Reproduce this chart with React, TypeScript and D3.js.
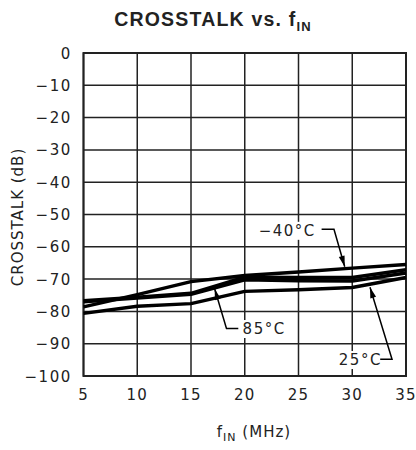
import React from 'react';
import * as d3 from 'd3';

const freqs = [5, 10, 15, 20, 25, 30, 35];
const xTicks = [5, 10, 15, 20, 25, 30, 35];
const yTicks = [0, -10, -20, -30, -40, -50, -60, -70, -80, -90, -100];
const crosstalkM40 = [-78.6, -74.8, -70.8, -68.9, -67.8, -66.6, -65.5];
const crosstalk85 = [-76.7, -75.6, -74.4, -69.4, -69.5, -69.5, -67.1];
const crosstalk85b = [-77.0, -75.9, -74.7, -70.2, -70.5, -70.6, -68.1];
const crosstalk25 = [-80.6, -78.4, -77.6, -73.8, -73.3, -72.6, -69.5];
const seriesList = [crosstalkM40, crosstalk85, crosstalk85b, crosstalk25];

const labelM40 = '−40°C';
const label85 = '85°C';
const label25 = '25°C';

// annotation anchors in data units: text position, leader elbow points, arrow tip
const annotations = [
  { text: labelM40, tx: 21.3, ty: -56.6, pts: [[27.15, -54.6], [28.3, -54.6], [29.3, -66.2]] },
  { text: label85, tx: 19.8, ty: -87.0, pts: [[19.4, -85.3], [18.3, -85.3], [17.2, -73.0]] },
  { text: label25, tx: 28.75, ty: -96.6, pts: [[32.6, -94.8], [33.7, -94.8], [31.65, -72.5]] },
];

const W = 416, H = 450;
const L = 83.5, R = 406, T = 53, B = 376;

export default function App() {
  const x = d3.scaleLinear().domain([5, 35]).range([L, R]);
  const y = d3.scaleLinear().domain([-100, 0]).range([B, T]);
  const line = d3.line<number>().x((_, i) => x(freqs[i])).y((d) => y(d));
  const font = "'DejaVu Sans', 'Liberation Sans', sans-serif";

  const arrowHead = (p0: number[], p1: number[]) => {
    const [x0, y0] = [x(p0[0]), y(p0[1])];
    const [x1, y1] = [x(p1[0]), y(p1[1])];
    const ang = Math.atan2(y1 - y0, x1 - x0);
    const len = 11, half = 3;
    const bx = x1 - len * Math.cos(ang), by = y1 - len * Math.sin(ang);
    const nx = -Math.sin(ang), ny = Math.cos(ang);
    return `M${x1},${y1}L${bx + nx * half},${by + ny * half}L${bx - nx * half},${by - ny * half}Z`;
  };

  return (
    <svg width={W} height={H} style={{ position: 'absolute', left: 0, top: 0, background: '#fff' }}>
      <text x={213} y={26} textAnchor="middle" fontFamily="'Liberation Sans', Arial, sans-serif" fontWeight="bold" fontSize={19.5} letterSpacing={1.2} fill="#222">
        CROSSTALK vs. f<tspan fontSize={13} dy={5}>IN</tspan>
      </text>
      {xTicks.map((t) => (
        <line key={'gx' + t} x1={x(t)} x2={x(t)} y1={T} y2={B} stroke="#222" strokeWidth={1.5} />
      ))}
      {yTicks.map((t) => (
        <line key={'gy' + t} x1={L} x2={R} y1={y(t)} y2={y(t)} stroke="#222" strokeWidth={1.5} />
      ))}
      <rect x={L} y={T} width={R - L} height={B - T} fill="none" stroke="#222" strokeWidth={2} />
      {yTicks.map((t) => (
        <text key={'ty' + t} x={72} y={y(t) + 5.5} textAnchor="end" fontFamily={font} fontSize={15} letterSpacing={1.6} fill="#222">
          {t < 0 ? '−' + Math.abs(t) : String(t)}
        </text>
      ))}
      {xTicks.map((t) => (
        <text key={'tx' + t} x={x(t)} y={400} textAnchor="middle" fontFamily={font} fontSize={15} letterSpacing={1.2} fill="#222">
          {t}
        </text>
      ))}
      <text transform="translate(23,217) rotate(-90)" textAnchor="middle" fontFamily={font} fontSize={15} letterSpacing={1} fill="#222">
        CROSSTALK (dB)
      </text>
      <text x={254} y={437} textAnchor="middle" fontFamily={font} fontSize={15} letterSpacing={1} fill="#222">
        f<tspan fontSize={11} dy={4}>IN</tspan><tspan dy={-4}>  (MHz)</tspan>
      </text>
      {seriesList.map((s, i) => (
        <path key={'s' + i} d={line(s) || ''} fill="none" stroke="#000" strokeWidth={3.4} strokeLinejoin="round" />
      ))}
      {annotations.map((a, i) => (
        <g key={'a' + i}>
          <rect x={x(a.tx) - 2} y={y(a.ty) - 14} width={a.text.length * 10.5 + 2} height={18} fill="#fff" />
          <text x={x(a.tx)} y={y(a.ty)} fontFamily={font} fontSize={15} letterSpacing={1.5} fill="#222">
            {a.text}
          </text>
          <polyline points={a.pts.map((p) => `${x(p[0])},${y(p[1])}`).join(' ')} fill="none" stroke="#000" strokeWidth={1.5} />
          <path d={arrowHead(a.pts[1], a.pts[2])} fill="#000" />
        </g>
      ))}
    </svg>
  );
}
